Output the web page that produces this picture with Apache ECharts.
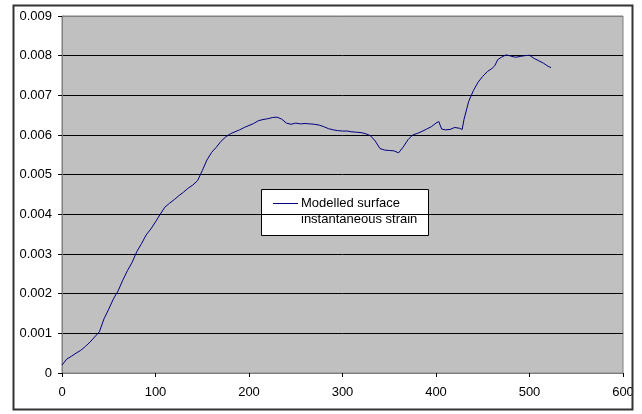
<!DOCTYPE html>
<html>
<head>
<meta charset="utf-8">
<script src="https://cdn.jsdelivr.net/npm/echarts@6/dist/echarts.min.js"></script>
<style>
  html, body { margin: 0; padding: 0; background: #ffffff; }
  #chart { width: 642px; height: 414px; }
</style>
</head>
<body>
<div id="chart"></div>
<script>
// Distance along the profile
const xs = [
  0, 5, 10, 15, 20, 25, 30, 35, 40, 45,
  50, 55, 60, 65, 70, 75, 80, 85, 90, 95,
  100, 105, 110, 115, 120, 125, 130, 135, 140, 145,
  150, 155, 160, 165, 170, 175, 180, 185, 190, 195,
  200, 205, 210, 215, 220, 225, 230, 235, 240, 245,
  250, 255, 260, 265, 270, 275, 280, 285, 290, 295,
  300, 305, 310, 315, 320, 325, 330, 335, 340, 345,
  350, 355, 360, 365, 370, 375, 380, 385, 390, 395,
  400, 403, 405, 406, 410, 415, 420, 425, 428, 430,
  435, 440, 445, 450, 455, 460, 463, 466, 470, 475,
  480, 485, 490, 495, 500, 505, 510, 515, 520, 523
];

// Modelled surface instantaneous strain
const strain = [
  0.00020, 0.00035, 0.00042, 0.00050, 0.00057, 0.00067, 0.00078, 0.00091, 0.00104, 0.00137,
  0.00161, 0.00187, 0.00207, 0.00234, 0.00258, 0.00279, 0.00306, 0.00326, 0.00348, 0.00363,
  0.00381, 0.00400, 0.00418, 0.00428, 0.00437, 0.00447, 0.00456, 0.00466, 0.00474, 0.00485,
  0.00510, 0.00537, 0.00556, 0.00569, 0.00584, 0.00595, 0.00603, 0.00608, 0.00613, 0.00619,
  0.00624, 0.00629, 0.00636, 0.00639, 0.00641, 0.00644, 0.00645, 0.00640, 0.00630, 0.00627,
  0.00630, 0.00628, 0.00629, 0.00628, 0.00627, 0.00625, 0.00621, 0.00616, 0.00613, 0.00611,
  0.00610, 0.00610, 0.00608, 0.00607, 0.00606, 0.00603, 0.00598, 0.00585, 0.00566, 0.00562,
  0.00561, 0.00560, 0.00555, 0.00570, 0.00588, 0.00600, 0.00604, 0.00609, 0.00615, 0.00621,
  0.00630, 0.00634, 0.00634, 0.00615, 0.00613, 0.00614, 0.00619, 0.00617, 0.00614, 0.00640,
  0.00685, 0.00712, 0.00733, 0.00748, 0.00760, 0.00768, 0.00775, 0.00790, 0.00796, 0.00802,
  0.00799, 0.00796, 0.00798, 0.00800, 0.00801, 0.00793, 0.00787, 0.00781, 0.00773, 0.00770
];

const seriesName = 'Modelled surface instantaneous strain';
const legendLines = ['Modelled surface', 'instantaneous strain'];

const xTicks = { min: 0, max: 600, step: 100 };
const yTicks = { min: 0, max: 0.009, step: 0.001 };

const chart = echarts.init(document.getElementById('chart'), null, { renderer: 'canvas' });

const font = '"Liberation Sans", Arial, sans-serif';
const splitColors = [];
for (let v = yTicks.min, i = 0; i <= Math.round((yTicks.max - yTicks.min) / yTicks.step); i++) {
  splitColors.push(i === 0 || i === Math.round((yTicks.max - yTicks.min) / yTicks.step) ? '#808080' : '#000000');
}

chart.setOption({
  animation: false,
  backgroundColor: '#ffffff',
  grid: {
    left: 62, top: 16, right: 19, bottom: 41,
    show: true,
    backgroundColor: '#c0c0c0',
    borderColor: '#808080',
    borderWidth: 1
  },
  xAxis: {
    type: 'value',
    min: xTicks.min, max: xTicks.max, interval: xTicks.step,
    axisLine: { show: true, lineStyle: { color: '#808080', width: 1 } },
    axisTick: { show: true, length: 4, inside: false, lineStyle: { color: '#000000' } },
    axisLabel: { color: '#000000', fontFamily: font, fontSize: 13, margin: 13 },
    splitLine: { show: false }
  },
  yAxis: {
    type: 'value',
    min: yTicks.min, max: yTicks.max, interval: yTicks.step,
    axisLine: { show: true, lineStyle: { color: '#808080', width: 1 } },
    axisTick: { show: true, length: 4, inside: false, lineStyle: { color: '#000000' } },
    axisLabel: {
      color: '#000000', fontFamily: font, fontSize: 13, margin: 10,
      formatter: v => (v === 0 ? '0' : v.toFixed(3))
    },
    splitLine: { show: true, lineStyle: { color: splitColors, width: 1 } }
  },
  series: [{
    name: seriesName,
    type: 'line',
    data: xs.map((x, i) => [x, strain[i]]),
    symbol: 'none',
    lineStyle: { color: '#000080', width: 1 },
    z: 5
  }],
  graphic: [
    {
      type: 'rect',
      shape: { x: 13.5, y: 5.5, width: 619, height: 404 },
      style: { fill: 'none', stroke: '#333333', lineWidth: 2 },
      silent: true, z: 100
    },
    {
      type: 'group',
      left: 261, top: 189, z: 100,
      children: [
        {
          type: 'rect',
          shape: { x: 0.5, y: 0.5, width: 167, height: 46 },
          style: { fill: '#ffffff', stroke: '#000000', lineWidth: 1 }
        },
        {
          type: 'line',
          shape: { x1: 12, y1: 14.5, x2: 37, y2: 14.5 },
          style: { stroke: '#000080', lineWidth: 1 }
        },
        {
          type: 'text',
          x: 40, y: 6,
          style: {
            text: legendLines.join('\n'),
            fill: '#000000',
            font: '13px ' + font,
            lineHeight: 16,
            textVerticalAlign: 'top'
          }
        }
      ]
    }
  ]
});
</script>
</body>
</html>
